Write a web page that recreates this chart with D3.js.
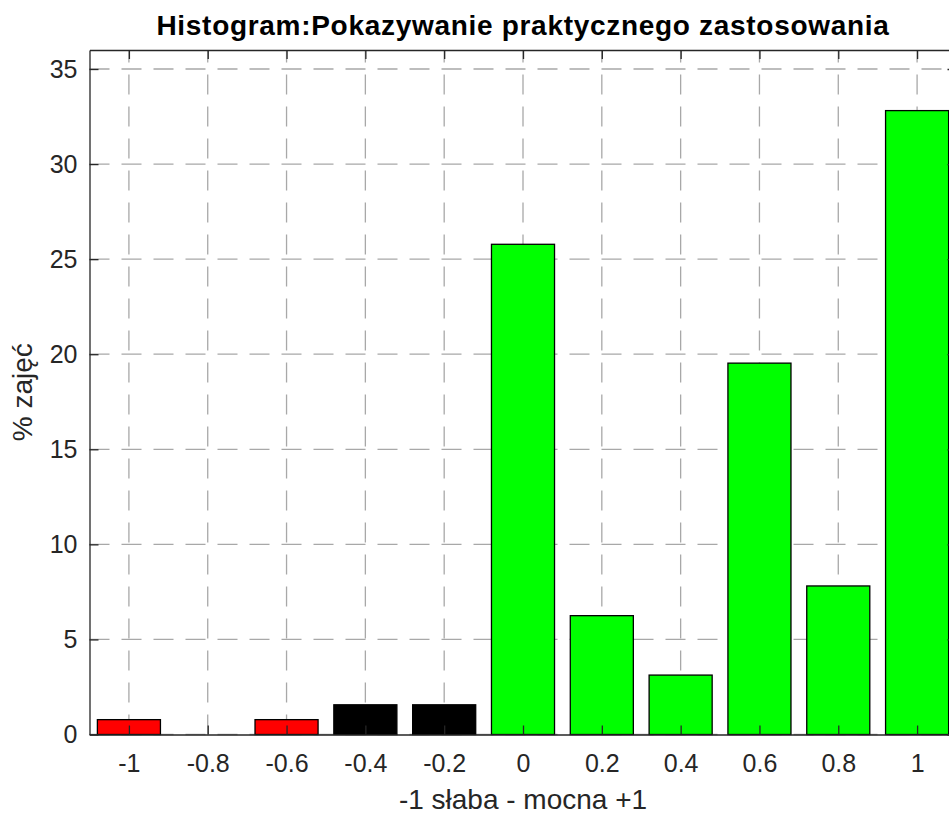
<!DOCTYPE html>
<html>
<head>
<meta charset="utf-8">
<script src="https://cdn.jsdelivr.net/npm/d3@7"></script>
<style>
  body { margin: 0; background: #fff; }
  svg { display: block; font-family: "Liberation Sans", Arial, sans-serif; }
</style>
</head>
<body>
<div id="chart"></div>
<script>
const WIDTH = 949, HEIGHT = 814;
const MARGIN = { TOP: 50, LEFT: 89.5, BOTTOM: 79.5 };

const categories = [-1, -0.8, -0.6, -0.4, -0.2, 0, 0.2, 0.4, 0.6, 0.8, 1];
const percents = [0.78125, 0, 0.78125, 1.5625, 1.5625, 25.78125, 6.25, 3.125, 19.53125, 7.8125, 32.8125];
const barColors = ['#ff0000', '#ff0000', '#ff0000', '#000000', '#000000',
                   '#00ff00', '#00ff00', '#00ff00', '#00ff00', '#00ff00', '#00ff00'];
const yTicks = [0, 5, 10, 15, 20, 25, 30, 35];

const title = 'Histogram:Pokazywanie praktycznego zastosowania';
const xTitle = '-1 słaba - mocna +1';
const yTitle = '% zajęć';

// the plot box runs a little past the right edge of the picture
const plotRight = 956.5;
const plotBottom = HEIGHT - MARGIN.BOTTOM;

const x = d3.scaleLinear().domain([-1.1, 1.1]).range([MARGIN.LEFT, plotRight]);
const y = d3.scaleLinear().domain([0, 36]).range([plotBottom, MARGIN.TOP]);
const barW = (x(0.2) - x(0)) * 0.8;

const svg = d3.select('#chart').append('svg')
    .attr('width', WIDTH)
    .attr('height', HEIGHT);

// grid
const grid = svg.append('g')
    .attr('stroke', '#a8a8a8')
    .attr('stroke-width', 1.3)
    .attr('stroke-dasharray', '20,12');
grid.selectAll('.gx').data(categories).enter().append('line')
    .attr('x1', d => x(d)).attr('x2', d => x(d))
    .attr('y1', plotBottom).attr('y2', MARGIN.TOP);
grid.selectAll('.gy').data(yTicks).enter().append('line')
    .attr('y1', d => y(d)).attr('y2', d => y(d))
    .attr('x1', MARGIN.LEFT).attr('x2', plotRight);

// bars
svg.append('g').selectAll('rect')
    .data(percents)
    .enter().append('rect')
        .attr('x', (d, i) => x(categories[i]) - barW / 2)
        .attr('width', barW)
        .attr('y', d => y(d))
        .attr('height', d => plotBottom - y(d))
        .attr('fill', (d, i) => barColors[i])
        .attr('stroke', '#000')
        .attr('stroke-width', d => d > 0 ? 1.3 : 0);

// axes
const axisColor = '#262626';
const xAxisCall = d3.axisBottom(x).tickValues(categories).tickSizeInner(-9).tickSizeOuter(0)
    .tickPadding(20).tickFormat(d => String(d));
const xAxisGroup = svg.append('g')
    .attr('transform', `translate(0, ${plotBottom})`)
    .call(xAxisCall);
const xTopGroup = svg.append('g')
    .attr('transform', `translate(0, ${MARGIN.TOP})`)
    .call(d3.axisTop(x).tickValues(categories).tickSizeInner(-9).tickSizeOuter(0).tickFormat(''));
const yAxisGroup = svg.append('g')
    .attr('transform', `translate(${MARGIN.LEFT}, 0)`)
    .call(d3.axisLeft(y).tickValues(yTicks).tickSizeInner(-9).tickSizeOuter(0).tickPadding(12)
        .tickFormat(d => String(d)));
const yRightGroup = svg.append('g')
    .attr('transform', `translate(${plotRight}, 0)`)
    .call(d3.axisRight(y).tickValues(yTicks).tickSizeInner(-9).tickSizeOuter(0).tickFormat(''));

[xAxisGroup, xTopGroup, yAxisGroup, yRightGroup].forEach(g => {
    g.select('.domain').attr('stroke', axisColor).attr('stroke-width', 1.3);
    g.selectAll('.tick line').attr('stroke', axisColor).attr('stroke-width', 1.3);
    g.selectAll('.tick text')
        .attr('fill', axisColor)
        .style('font-size', '25px')
        .style('font-family', '"Liberation Sans", Arial, sans-serif');
});

// titles
svg.append('text')
    .attr('x', (MARGIN.LEFT + plotRight) / 2)
    .attr('y', 35)
    .attr('text-anchor', 'middle')
    .attr('font-weight', 'bold')
    .attr('font-size', 28)
    .attr('letter-spacing', 0.7)
    .attr('fill', '#000')
    .text(title);

svg.append('text')
    .attr('x', (MARGIN.LEFT + plotRight) / 2)
    .attr('y', 809)
    .attr('text-anchor', 'middle')
    .attr('font-size', 28)
    .attr('fill', axisColor)
    .text(xTitle);

svg.append('text')
    .attr('transform', `translate(32, ${(MARGIN.TOP + plotBottom) / 2}) rotate(-90)`)
    .attr('text-anchor', 'middle')
    .attr('font-size', 28)
    .attr('fill', axisColor)
    .text(yTitle);
</script>
</body>
</html>
